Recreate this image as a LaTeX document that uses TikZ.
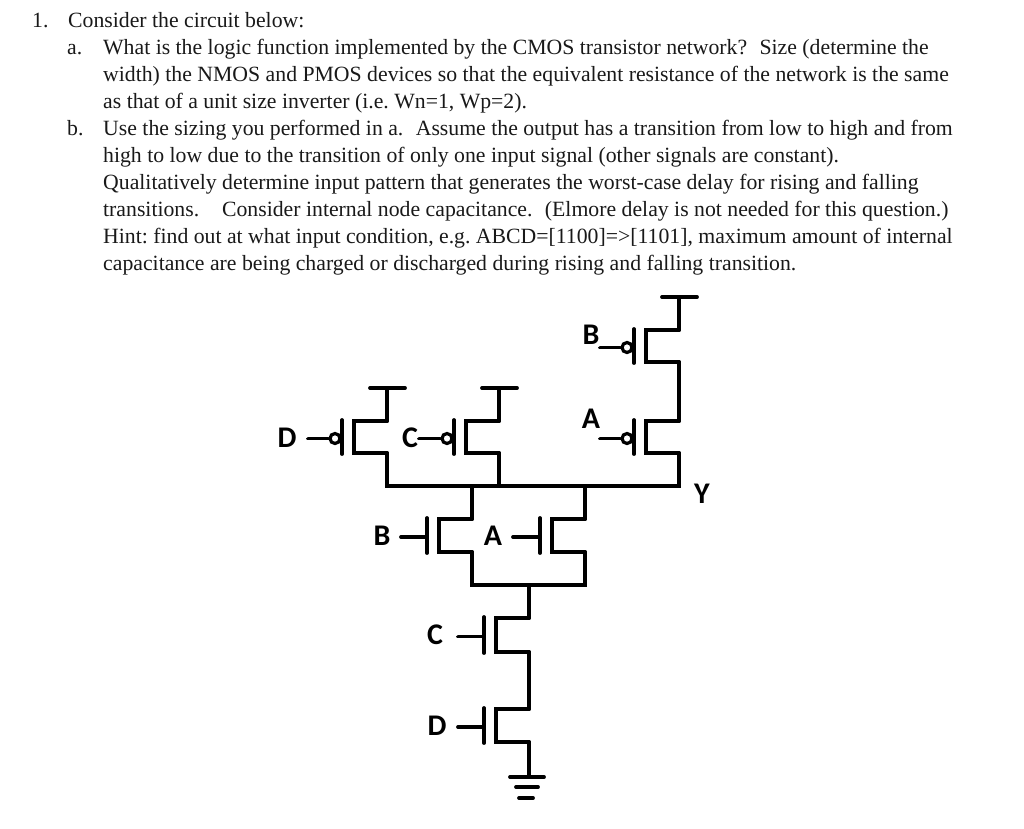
\documentclass[tikz,border=0pt]{standalone}
\usepackage{fontspec}
\setmainfont{Liberation Serif}
\newfontfamily\labelfont[Scale=1]{Carlito}
\tikzset{
  wire/.style={line width=3.8pt,line join=miter,line cap=round,black},
  bubble/.style={circle,draw=black,line width=3.2pt,fill=white,minimum size=10pt,inner sep=0pt},
  txt/.style={anchor=base west,inner sep=0pt,font=\frenchspacing\fontsize{21.75}{24}\selectfont,text=black!90},
  lab/.style={inner sep=0pt,font=\fontsize{30}{32}\selectfont\labelfont\bfseries}
}
\newcommand{\fetbody}[5]{%
  \coordinate (#1-s) at (#2,#3);
  \coordinate (#1-d) at (#2,#4);
  \coordinate (#1-cs) at (#2-33,#3);
  \coordinate (#1-cd) at (#2-33,#4);
  \coordinate (#1-bt) at (#2-45,#3-1);
  \coordinate (#1-bb) at (#2-45,#4+1);
  \coordinate (#1-g) at (#5,{(#3+#4)/2+1.5});
  \draw[wire] (#1-s) -- (#1-cs) -- (#1-cd) -- (#1-d);
  \draw[wire] (#1-bt) -- (#1-bb);
}
\newcommand{\nfet}[5]{\fetbody{#1}{#2}{#3}{#4}{#5}
  \coordinate (#1-gi) at (#2-45,{(#3+#4)/2+1.5});
  \draw[wire] (#1-g) -- (#1-gi);}
\newcommand{\pfet}[5]{\fetbody{#1}{#2}{#3}{#4}{#5}
  \node[bubble] (#1-o) at (#2-52,{(#3+#4)/2+1.5}) {};
  \draw[wire] (#1-g) -- (#1-o);}
\begin{document}
\begin{tikzpicture}[x=1pt,y=-1pt]
\useasboundingbox (0,0) rectangle (1024,828);
% text
\node[txt] (t0m) at (32,27.7) {1.};
\node[txt] (t0) at (68,27.7) {Consider the circuit below:};
\node[txt] (t1m) at (67,54.7) {a.};
\node[txt] (t1) at (103,54.7) {What is the logic function implemented by the CMOS transistor network?\hspace{0.32em} Size (determine the};
\node[txt] (t2) at (103,81.7) {width) the NMOS and PMOS devices so that the equivalent resistance of the network is the same};
\node[txt] (t3) at (103,108.7) {as that of a unit size inverter (i.e. Wn=1, Wp=2).};
\node[txt] (t4m) at (67,135.7) {b.};
\node[txt] (t4) at (103,135.7) {Use the sizing you performed in a.\hspace{0.32em} Assume the output has a transition from low to high and from};
\node[txt] (t5) at (103,162.7) {high to low due to the transition of only one input signal (other signals are constant).};
\node[txt] (t6) at (103,189.7) {Qualitatively determine input pattern that generates the worst-case delay for rising and falling};
\node[txt] (t7) at (103,216.7) {transitions.\hspace{0.8em} Consider internal node capacitance.\hspace{0.32em} (Elmore delay is not needed for this question.)};
\node[txt] (t8) at (103,243.7) {Hint: find out at what input condition, e.g. ABCD=[1100]=>[1101], maximum amount of internal};
\node[txt] (t9) at (103,270.7) {capacitance are being charged or discharged during rising and falling transition.};
% transistors
\pfet{PB}{679}{330}{362}{600}
\pfet{PA}{679}{421}{453}{600}
\pfet{PD}{387}{421}{453}{308}
\pfet{PC}{499}{421}{453}{419}
\nfet{NB}{472}{519}{552}{401}
\nfet{NA}{585}{519}{552}{513}
\nfet{NC}{529}{618}{652}{458}
\nfet{ND}{529}{709}{742}{458}
% supplies
\coordinate (VB) at (679,297); \coordinate (VBl) at (662,297); \coordinate (VBr) at (697,297);
\coordinate (VD) at (387,388); \coordinate (VDl) at (370,388); \coordinate (VDr) at (405,388);
\coordinate (VC) at (499,388); \coordinate (VCl) at (482,388); \coordinate (VCr) at (517,388);
\draw[wire] (VBl) -- (VBr);
\draw[wire] (VDl) -- (VDr);
\draw[wire] (VCl) -- (VCr);
\draw[wire] (VB) -- (PB-s);
\draw[wire] (VD) -- (PD-s);
\draw[wire] (VC) -- (PC-s);
\draw[wire] (PB-d) -- (PA-s);
% output bus
\coordinate (busL) at (387,486); \coordinate (busR) at (679,486);
\coordinate (busB) at (472,486); \coordinate (busA) at (585,486); \coordinate (busC) at (499,486);
\draw[wire] (PD-d) -- (busL) -- (busR) -- (PA-d);
\draw[wire] (PC-d) -- (busC);
\draw[wire] (busB) -- (NB-s);
\draw[wire] (busA) -- (NA-s);
% lower bus
\coordinate (lowB) at (472,585); \coordinate (lowA) at (585,585); \coordinate (lowC) at (529,585);
\draw[wire] (NB-d) -- (lowB) -- (lowA) -- (NA-d);
\draw[wire] (lowC) -- (NC-s);
\draw[wire] (NC-d) -- (ND-s);
% ground
\coordinate (G1) at (529,777);
\coordinate (G1l) at (510,777); \coordinate (G1r) at (544,777);
\coordinate (G2l) at (516,787); \coordinate (G2r) at (538,787);
\coordinate (G3l) at (519,798); \coordinate (G3r) at (533,798);
\draw[wire] (ND-d) -- (G1);
\draw[wire] (G1l) -- (G1r);
\draw[wire] (G2l) -- (G2r);
\draw[wire] (G3l) -- (G3r);
% labels
\node[lab] (lPB) at (591,335) {B};
\node[lab] (lPA) at (591,419) {A};
\node[lab] (lPD) at (287,438) {D};
\node[lab] (lPC) at (410,438) {C};
\node[lab] (lY) at (702,494) {Y};
\node[lab] (lNB) at (382,536) {B};
\node[lab] (lNA) at (493,536) {A};
\node[lab] (lNC) at (435,635) {C};
\node[lab] (lND) at (437,726) {D};
\end{tikzpicture}
\end{document}
